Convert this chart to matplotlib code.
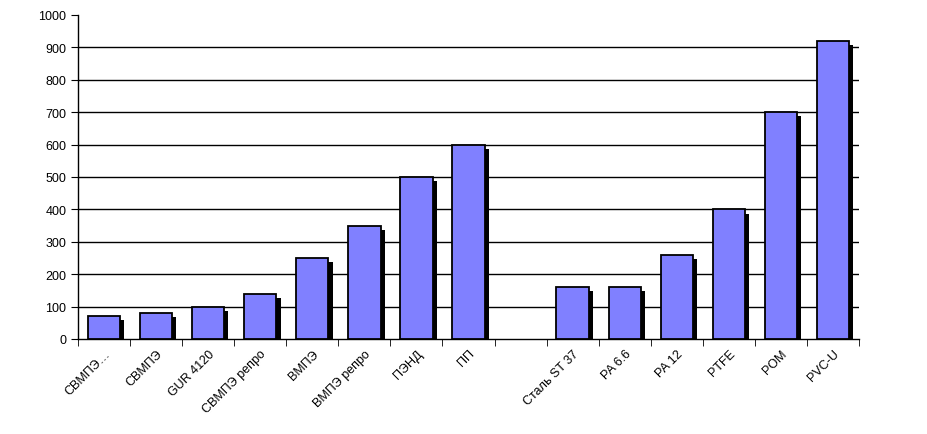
import numpy as np
import matplotlib
matplotlib.use("Agg")
import matplotlib.pyplot as plt
import matplotlib.patheffects as pe

categories = ["СВМПЭ…", "СВМПЭ", "GUR 4120", "СВМПЭ репро", "ВМПЭ", "ВМПЭ репро",
              "ПЭНД", "ПП", "", "Сталь ST 37", "PA 6.6", "PA 12", "PTFE", "POM", "PVC-U"]
values = [70, 80, 100, 140, 250, 350, 500, 600, np.nan, 160, 160, 260, 400, 700, 920]
yticks = [0, 100, 200, 300, 400, 500, 600, 700, 800, 900, 1000]

plt.rcParams['font.family'] = ['Liberation Sans', 'DejaVu Sans']

fig = plt.figure(figsize=(9.27, 4.35), dpi=100)
ax = fig.add_axes([78/927, 1-340/435, (859-78)/927, (340-16)/435])

x = np.arange(len(categories))
ax.set_xlim(-0.5, len(categories)-0.5)
ax.set_ylim(0, 1000)

for yv in yticks[1:-1]:
    ax.axhline(yv, color='black', lw=1, zorder=1)

bars = ax.bar(x, values, width=0.62, color='#8080FF', edgecolor='black', linewidth=1.3, zorder=3)
for b in bars:
    b.set_path_effects([pe.SimplePatchShadow(offset=(3, -3), shadow_rgbFace='black', alpha=1.0), pe.Normal()])

ax.set_yticks(yticks)
ax.set_yticklabels([str(v) for v in yticks], fontsize=9)
ax.set_xticks(x)
ax.set_xticklabels(categories, rotation=45, ha='right', rotation_mode='anchor', fontsize=9)
ax.tick_params(axis='x', length=0, pad=6)
ax.set_xticks(np.arange(len(categories)+1) - 0.5, minor=True)
ax.tick_params(axis='x', which='minor', length=5, direction='out', color='black')
ax.tick_params(axis='y', length=5, direction='out', color='black')

for s in ['top', 'right']:
    ax.spines[s].set_visible(False)
ax.spines['left'].set_linewidth(1)
ax.spines['bottom'].set_linewidth(1)

fig.savefig("out.png", dpi=100)
